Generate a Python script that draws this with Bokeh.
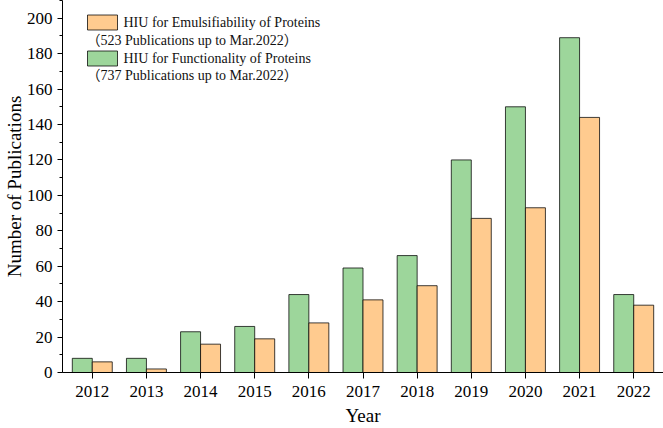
from bokeh.plotting import figure
from bokeh.models import (Range1d, ColumnDataSource, FixedTicker, SingleIntervalTicker,
                          BoxAnnotation, Label)
from bokeh.transform import dodge
from bokeh.embed import file_html
from bokeh.resources import INLINE

years = [2012, 2013, 2014, 2015, 2016, 2017, 2018, 2019, 2020, 2021, 2022]
functionality = [8, 8, 23, 26, 44, 59, 66, 120, 150, 189, 44]
emulsifiability = [6, 2, 16, 19, 28, 41, 49, 87, 93, 144, 38]

legend_emul = ["HIU for Emulsifiability of Proteins", "\uff08523 Publications up to Mar.2022\uff09"]
legend_func = ["HIU for Functionality of Proteins", "\uff08737 Publications up to Mar.2022\uff09"]
x_title = "Year"
y_title = "Number of Publications"

GREEN = "#9dd69b"
ORANGE = "#ffcb8f"
FONT = "Liberation Serif"
FONT_CJK = "'Liberation Serif', 'Noto Sans CJK SC'"

src = ColumnDataSource(dict(year=years, func=functionality, emul=emulsifiability))

FW, FH = 663, 428
BL, BB = 62, 55
p = figure(width=FW, height=FH, output_backend="svg", toolbar_location=None,
           x_range=Range1d(2011.45, 2022.55), y_range=Range1d(0, 210),
           min_border_left=BL, min_border_right=0, min_border_top=0, min_border_bottom=BB)
p.outline_line_color = None
p.grid.visible = False
p.background_fill_color = "white"
p.border_fill_color = "white"

bw = 0.369
p.vbar(x=dodge("year", -bw / 2, range=p.x_range), top="func", width=bw, source=src,
       fill_color=GREEN, line_color="black", line_alpha=0.75, line_width=1)
p.vbar(x=dodge("year", bw / 2, range=p.x_range), top="emul", width=bw, source=src,
       fill_color=ORANGE, line_color="black", line_alpha=0.75, line_width=1)

# axes
xa = p.xaxis[0]
xa.ticker = FixedTicker(ticks=years)
xa.major_tick_in = 0
xa.major_tick_out = 6
xa.minor_tick_out = 0
xa.minor_tick_in = 0
xa.major_label_standoff = 7
xa.axis_label = x_title
xa.axis_label_standoff = 5

ya = p.yaxis[0]
ya.ticker = SingleIntervalTicker(interval=20, num_minor_ticks=2)
ya.major_tick_in = 0
ya.major_tick_out = 5
ya.minor_tick_in = 0
ya.minor_tick_out = 3
ya.major_label_standoff = 5
ya.axis_label = y_title
ya.axis_label_standoff = -1

for ax in (xa, ya):
    ax.axis_line_color = "black"
    ax.major_tick_line_color = "black"
    ax.minor_tick_line_color = "black"
    ax.major_label_text_font = FONT
    ax.major_label_text_font_size = "17px"
    ax.major_label_text_color = "black"
    ax.axis_label_text_font = FONT
    ax.axis_label_text_font_size = "19px"
    ax.axis_label_text_font_style = "normal"
    ax.axis_label_text_color = "black"

frame_h = FH - BB

# manual legend (screen units relative to frame bottom-left)
p.add_layout(BoxAnnotation(left=25, right=55, top=frame_h - 15.5, bottom=frame_h - 30.5,
                           left_units="screen", right_units="screen",
                           top_units="screen", bottom_units="screen",
                           fill_color=ORANGE, fill_alpha=1, line_color="black",
                           line_alpha=0.75, line_width=1))
p.add_layout(BoxAnnotation(left=25, right=55, top=frame_h - 51.5, bottom=frame_h - 66.5,
                           left_units="screen", right_units="screen",
                           top_units="screen", bottom_units="screen",
                           fill_color=GREEN, fill_alpha=1, line_color="black",
                           line_alpha=0.75, line_width=1))

for txt, x, dy in [(legend_emul[0], 61, 23), (legend_emul[1], 24, 41),
                  (legend_func[0], 61, 59), (legend_func[1], 24, 76)]:
    p.add_layout(Label(x=x, y=frame_h - dy, x_units="screen", y_units="screen", text=txt,
                       text_font=FONT_CJK, text_font_size="14px", text_color="#111111",
                       text_baseline="middle", text_align="left"))

open("out.html", "w").write(file_html(p, INLINE))
